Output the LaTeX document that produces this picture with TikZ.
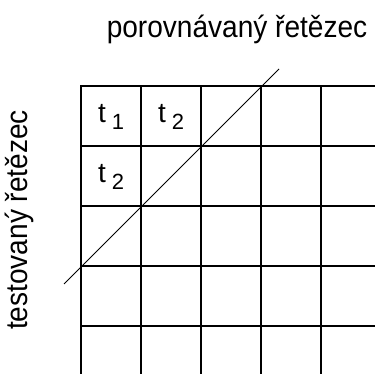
\documentclass[tikz,border=0pt]{standalone}
\usepackage{fontspec}
\setmainfont{Liberation Sans}
\usepackage{tikz}
\usetikzlibrary{positioning}

\newcommand{\tlabel}[1]{t\hspace{6pt}\raisebox{-7pt}{\fontsize{22}{22}\selectfont #1}}
\newcommand{\narrowtext}[1]{\scalebox{0.92}[1]{#1}}

\begin{document}
\begin{tikzpicture}[
    x=1pt, y=1pt,
    grid_line/.style={line width=1.6pt, draw=black, line cap=rect},
    diag_line/.style={line width=0.8pt, draw=black},
    title_node/.style={inner sep=0pt, anchor=base, font=\fontsize{30.5}{32}\selectfont},
    cell_label/.style={inner sep=0pt, anchor=base west, font=\fontsize{28}{28}\selectfont}
]
\useasboundingbox (0,0) rectangle (375,374);

% Titles
\node[title_node] (compared) at (237,336.5) {\narrowtext{porovnávaný řetězec}};
\node[title_node, rotate=90] (tested) at (27,154) {\narrowtext{testovaný řetězec}};

% Grid
\begin{scope}
\clip (0,0) rectangle (375,374);
\foreach \x in {81,141,...,321}
  \draw[grid_line] (\x,288) -- (\x,-5);
\foreach \y in {288,228,...,48}
  \draw[grid_line] (81,\y) -- (380,\y);
\end{scope}

% Cell labels
\node[cell_label] (t11) at (98,251) {\tlabel{1}};
\node[cell_label] (t12) at (158,251) {\tlabel{2}};
\node[cell_label] (t21) at (98,191) {\tlabel{2}};

% Diagonal
\coordinate (diag_start) at (64,90);
\coordinate (diag_end) at (279,305);
\draw[diag_line] (diag_start) -- (diag_end);

\end{tikzpicture}
\end{document}
